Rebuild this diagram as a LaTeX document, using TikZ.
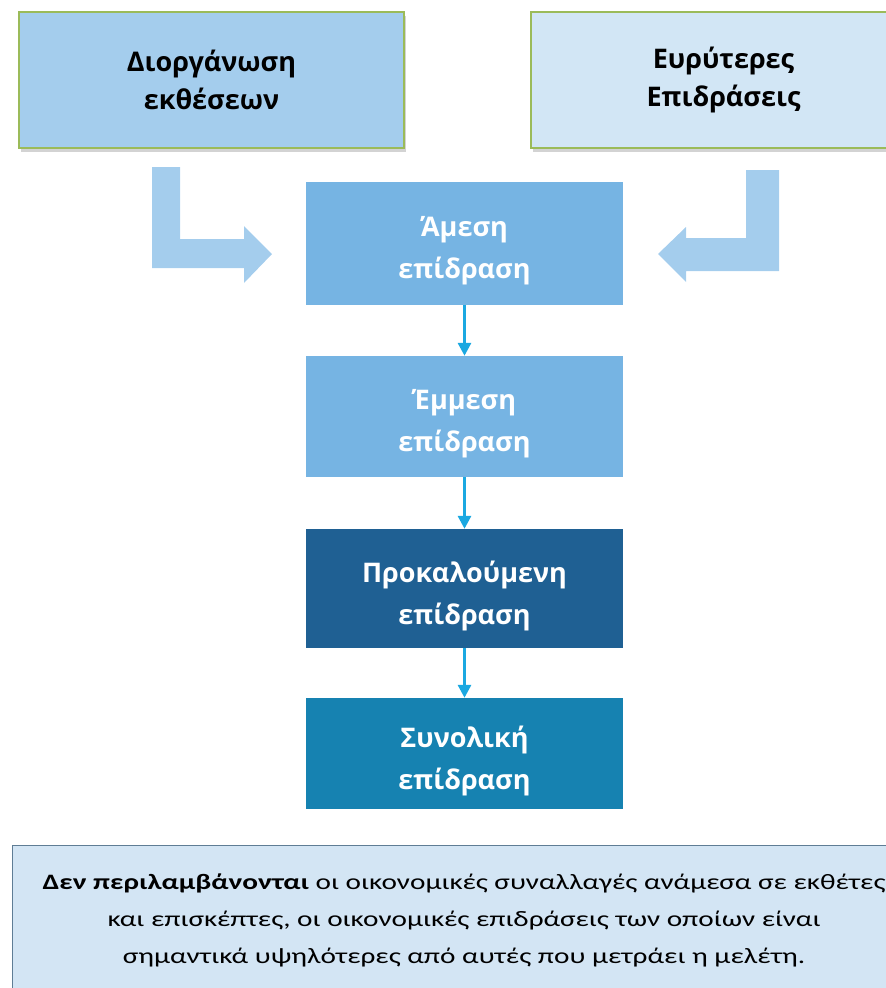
\documentclass[tikz,border=0pt]{standalone}
\usepackage{fontspec}
\setmainfont{Open Sans}
\newfontfamily\calfont[FakeStretch=1.33]{Carlito}
\usetikzlibrary{arrows.meta,shadows}
\definecolor{boxlight}{HTML}{A4CDED}
\definecolor{boxpale}{HTML}{D2E6F5}
\definecolor{boxgreen}{HTML}{9BBB59}
\definecolor{boxmid}{HTML}{76B4E3}
\definecolor{boxdark}{HTML}{1F6093}
\definecolor{boxteal}{HTML}{1682B1}
\definecolor{arrblue}{HTML}{1BA8E1}
\definecolor{notefill}{HTML}{D3E5F4}
\definecolor{noteline}{HTML}{5F7D95}
\begin{document}
\begin{tikzpicture}[x=1pt,y=-1pt,
  topbox/.style={draw=boxgreen,line width=1.5pt,minimum width=385pt,minimum height=136pt,
    align=center,font=\fontsize{27}{38}\selectfont\bfseries,
    drop shadow={shadow xshift=2pt,shadow yshift=-4pt,opacity=.35}},
  stage/.style={minimum width=317pt},
  stagetext/.style={align=center,text=white,yshift=-7pt,
    font=\fontsize{27}{42}\selectfont\bfseries},
  flow/.style={draw=arrblue,line width=3pt,-{Triangle[width=13pt,length=13pt]}},
  bent/.style={fill=boxlight}]
\useasboundingbox (0,0) rectangle (886,988);
\clip (0,0) rectangle (886,988);

\node[topbox,fill=boxlight] (org) at (211.5,80) {Διοργάνωση\\εκθέσεων};
\node[topbox,fill=boxpale] (wider) at (723.5,80) {Ευρύτερες\\Επιδράσεις};

\node[stage,fill=boxmid,minimum height=123pt,
  label={[stagetext]center:Άμεση\\επίδραση}] (direct) at (464.5,243.5) {};
\node[stage,fill=boxmid,minimum height=121pt,
  label={[stagetext]center:Έμμεση\\επίδραση}] (indirect) at (464.5,416.5) {};
\node[stage,fill=boxdark,minimum height=119pt,
  label={[stagetext]center:Προκαλούμενη\\επίδραση}] (induced) at (464.5,588.5) {};
\node[stage,fill=boxteal,minimum height=111pt,
  label={[stagetext]center:Συνολική\\επίδραση}] (total) at (464.5,753.5) {};

%\draw[color=black] (464,330) node {};
\draw[flow] (direct) -- (indirect);
\draw[flow] (indirect) -- (induced);
\draw[flow] (induced) -- (total);

% bent arrows
\fill[bent] (152,167) -- (180,167) -- (180,239) -- (244,239) -- (244,226) -- (272,254)
  -- (244,283) -- (244,268) -- (152,268) -- cycle;
\fill[bent] (779,170) -- (746,170) -- (746,238) -- (686,238) -- (686,227) -- (658,254)
  -- (686,282) -- (686,271) -- (779,271) -- cycle;

\node[draw=noteline,line width=1pt,fill=notefill,minimum width=904pt,minimum height=150pt,
  align=center,font=\calfont\fontsize{22}{37}\selectfont] (note) at (464,920)
  {\textbf{Δεν περιλαμβάνονται} οι οικονομικές συναλλαγές ανάμεσα σε εκθέτες\\
   και επισκέπτες, οι οικονομικές επιδράσεις των οποίων είναι\\
   σημαντικά υψηλότερες από αυτές που μετράει η μελέτη.};
\end{tikzpicture}
\end{document}
